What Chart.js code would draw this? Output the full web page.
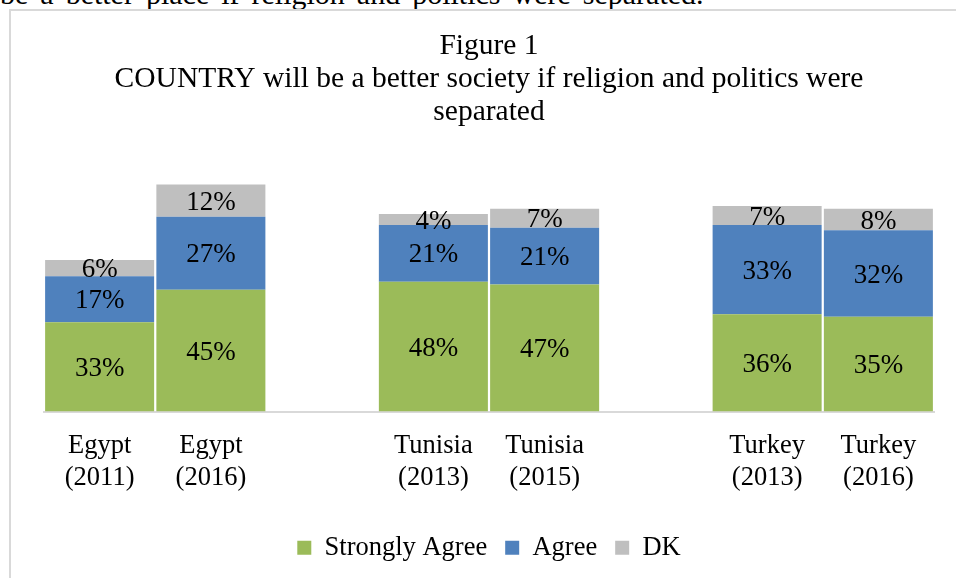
<!DOCTYPE html>
<html>
<head>
<meta charset="utf-8">
<script src="https://cdn.jsdelivr.net/npm/chart.js@4"></script>
<style>
  body { margin: 0; background: #fff; overflow: hidden; }
  #arriba {
    position: absolute; left: 0; top: -21px;
    font: 30px "Liberation Serif", "Times New Roman", serif;
    line-height: 30px; word-spacing: 4.5px; color: #000; white-space: nowrap;
  }
  #marco {
    position: absolute; left: 9px; top: 9px; width: 1000px; height: 700px;
    border: 2px solid #d9d9d9;
  }
  #grafica { position: absolute; left: 0; top: 0; }
</style>
</head>
<body>
<div id="arriba">be a better place if religion and politics were separated.</div>
<div id="marco"></div>
<canvas id="grafica" width="956" height="578"></canvas>
<script>
// datos (los huecos separan cada pais)
const categorias = [["Egypt", "(2011)"], ["Egypt", "(2016)"], "", ["Tunisia", "(2013)"], ["Tunisia", "(2015)"], " ", ["Turkey", "(2013)"], ["Turkey", "(2016)"]];
const muyDeAcuerdo = [33, 45, null, 48, 47, null, 36, 35];
const deAcuerdo = [17, 27, null, 21, 21, null, 33, 32];
const noSabe = [6, 12, null, 4, 7, null, 7, 8];
const titulo = ["Figure 1", "COUNTRY will be a better society if religion and politics were", "separated"];

const fuente = '"Liberation Serif", "Times New Roman", serif';
Chart.defaults.font.family = fuente;
Chart.defaults.color = "#000";

//plugin que escribe el porcentaje dentro de cada segmento
const etiquetas = {
  id: "etiquetas",
  afterDatasetsDraw(chart) {
    const ctx = chart.ctx;
    ctx.save();
    ctx.font = `27px ${fuente}`;
    ctx.fillStyle = "#000";
    ctx.textAlign = "center";
    ctx.textBaseline = "middle";
    chart.data.datasets.forEach((ds, i) => {
      chart.getDatasetMeta(i).data.forEach((barra, j) => {
        const v = ds.data[j];
        if (v == null) return;
        ctx.fillText(`${v}%`, barra.x, (barra.y + barra.base) / 2 + 2);
      });
    });
    ctx.restore();
  },
};

const data = {
  labels: categorias,
  datasets: [
    { label: "Strongly Agree", data: muyDeAcuerdo, backgroundColor: "#9bbb59" },
    { label: "Agree", data: deAcuerdo, backgroundColor: "#4f81bd" },
    { label: "DK", data: noSabe, backgroundColor: "#bfbfbf" },
  ],
};

const config = {
  type: "bar",
  data: data,
  plugins: [etiquetas],
  options: {
    responsive: false,
    animation: false,
    layout: { padding: { left: 44, right: 22, top: 0, bottom: 7 } },
    datasets: { bar: { categoryPercentage: 1, barPercentage: 0.98, borderWidth: 0 } },
    plugins: {
      tooltip: { enabled: false },
      title: {
        display: true,
        text: titulo,
        font: { size: 29.5, weight: "normal", lineHeight: 1.12 },
        padding: { top: 30, bottom: 12 },
        color: "#000",
      },
      legend: {
        position: "bottom",
        labels: { boxWidth: 14, boxHeight: 14, padding: 18, font: { size: 26.5 }, color: "#000" },
      },
    },
    scales: {
      x: {
        stacked: true,
        grid: { display: false, drawTicks: false },
        border: { display: true, color: "#d9d9d9", width: 2 },
        ticks: { padding: 19, maxRotation: 0, autoSkip: false, font: { size: 26.5, lineHeight: 1.2 }, color: "#000" },
        afterFit: (escala) => { escala.height = 105; },
      },
      y: { stacked: true, display: false, min: 0, max: 100 },
    },
  },
};

new Chart(document.getElementById("grafica"), config);
</script>
</body>
</html>
